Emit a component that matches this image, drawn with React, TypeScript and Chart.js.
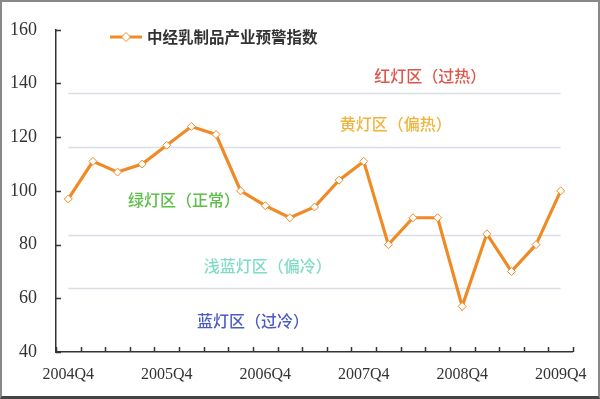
import React, { useEffect, useRef } from "react";
import { Chart, registerables } from "chart.js";

Chart.register(...registerables);

const categories = [
  "2004Q4", "2005Q1", "2005Q2", "2005Q3", "2005Q4",
  "2006Q1", "2006Q2", "2006Q3", "2006Q4",
  "2007Q1", "2007Q2", "2007Q3", "2007Q4",
  "2008Q1", "2008Q2", "2008Q3", "2008Q4",
  "2009Q1", "2009Q2", "2009Q3", "2009Q4",
];
const indexValues = [97, 111, 107, 110, 117, 124, 121, 100, 94.5, 90, 94, 104, 111, 80, 90, 90, 57, 84, 70, 80, 100];
const seriesName = "中经乳制品产业预警指数";
const yTicks = [40, 60, 80, 100, 120, 140, 160];
const zoneLines = [136.5, 116.5, 83.5, 64];
const zoneLabels = ["红灯区（过热）", "黄灯区（偏热）", "绿灯区（正常）", "浅蓝灯区（偏冷）", "蓝灯区（过冷）"];
const zoneLabelX = [14.7, 13.3, 4.7, 8.1, 7.5];
const zoneLabelY = [143, 125, 96.7, 72.2, 51.7];
const zoneColors = ["#e0554a", "#efb43c", "#5cbf48", "#80dcc6", "#4a5bc4"];

const LINE = "#f08a26";

const decor = {
  id: "decor",
  beforeDatasetsDraw(chart: any) {
    const { ctx, scales } = chart;
    const x = scales.x, y = scales.y;
    ctx.save();
    ctx.strokeStyle = "#d9dee6";
    ctx.lineWidth = 1.5;
    const x0 = x.getPixelForValue(0), x1 = x.getPixelForValue(categories.length - 1);
    zoneLines.forEach((v) => {
      const py = Math.round(y.getPixelForValue(v)) + 0.5;
      ctx.beginPath();
      ctx.moveTo(x0, py);
      ctx.lineTo(x1, py);
      ctx.stroke();
    });
    ctx.font = "500 16px 'Noto Sans CJK SC'";
    ctx.textAlign = "center";
    ctx.textBaseline = "middle";
    zoneLabels.forEach((t, i) => {
      ctx.fillStyle = zoneColors[i];
      ctx.fillText(t, x.getPixelForValue(zoneLabelX[i]), y.getPixelForValue(zoneLabelY[i]));
    });
    ctx.strokeStyle = "#333";
    ctx.lineWidth = 1.5;
    const bottom = chart.chartArea.bottom, left = chart.chartArea.left;
    const step = x.getPixelForValue(1) - x.getPixelForValue(0);
    for (let i = 0; i <= categories.length; i++) {
      const px = Math.round(x.getPixelForValue(0) - step / 2 + i * step) + 0.5;
      ctx.beginPath();
      ctx.moveTo(px, bottom);
      ctx.lineTo(px, bottom - 5);
      ctx.stroke();
    }
    yTicks.forEach((v) => {
      const py = Math.round(y.getPixelForValue(v)) + 0.5;
      ctx.beginPath();
      ctx.moveTo(left, py);
      ctx.lineTo(left + 5, py);
      ctx.stroke();
    });
    ctx.restore();
  },
  afterDatasetsDraw(chart: any) {
    const { ctx } = chart;
    ctx.save();
    const ly = 37;
    ctx.strokeStyle = LINE;
    ctx.lineWidth = 3;
    ctx.beginPath();
    ctx.moveTo(110, ly);
    ctx.lineTo(142, ly);
    ctx.stroke();
    ctx.fillStyle = "#fff";
    ctx.lineWidth = 1;
    ctx.beginPath();
    ctx.moveTo(126, ly - 4.5);
    ctx.lineTo(130.5, ly);
    ctx.lineTo(126, ly + 4.5);
    ctx.lineTo(121.5, ly);
    ctx.closePath();
    ctx.fill();
    ctx.stroke();
    ctx.fillStyle = "#333";
    ctx.font = "bold 15.5px 'Noto Sans CJK SC'";
    ctx.textAlign = "left";
    ctx.textBaseline = "middle";
    ctx.fillText(seriesName, 147, ly);
    ctx.restore();
  },
};

export default function App() {
  const ref = useRef<HTMLCanvasElement>(null);
  useEffect(() => {
    document.body.style.margin = "0";
    const chart = new Chart(ref.current!, {
      type: "line",
      data: {
        labels: categories,
        datasets: [
          {
            label: seriesName,
            data: indexValues,
            borderColor: LINE,
            borderWidth: 3.2,
            pointStyle: "rectRot",
            pointRadius: 4,
            pointBackgroundColor: "#fff",
            pointBorderColor: LINE,
            pointBorderWidth: 1,
            tension: 0,
          },
        ],
      },
      options: {
        animation: false,
        responsive: false,
        maintainAspectRatio: false,
        layout: { padding: { left: 0, right: 23, top: 23, bottom: 0 } },
        plugins: { legend: { display: false }, tooltip: { enabled: false } },
        scales: {
          x: {
            type: "category",
            offset: true,
            grid: { display: false, drawTicks: false },
            border: { display: true, color: "#333", width: 1.5 },
            ticks: {
              autoSkip: false,
              maxRotation: 0,
              padding: 13,
              color: "#333",
              font: { family: "'Liberation Serif'", size: 16 },
              callback: (_v: any, i: number) => (categories[i].endsWith("Q4") ? categories[i] : ""),
            },
            afterFit: (s: any) => { s.height = 47; },
          },
          y: {
            min: 40,
            max: 160,
            grid: { display: false, drawTicks: false },
            border: { display: true, color: "#333", width: 1.5 },
            ticks: {
              stepSize: 20,
              padding: 19,
              color: "#333",
              font: { family: "'Liberation Serif'", size: 18 },
            },
            afterFit: (s: any) => { s.width = 56; },
          },
        },
      },
      plugins: [decor],
    });
    return () => chart.destroy();
  }, []);
  return (
    <div style={{ position: "fixed", left: 0, top: 0, width: 600, height: 399, background: "#fff" }}>
      <canvas ref={ref} width={600} height={399} style={{ display: "block" }} />
      <div style={{ position: "absolute", inset: 0, boxSizing: "border-box", border: "2px solid #888", borderBottomWidth: 3, borderBottomColor: "#444", pointerEvents: "none" }} />
    </div>
  );
}
